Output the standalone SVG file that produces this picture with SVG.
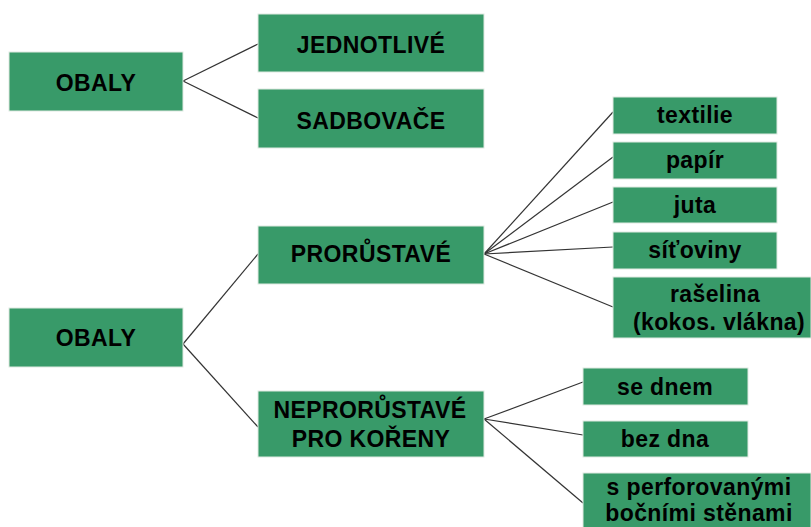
<svg xmlns="http://www.w3.org/2000/svg" width="811" height="527" viewBox="0 0 811 527">
<style>
.box{fill:#389a69;stroke:#dfeae2;stroke-width:1}
.t{font-family:"Liberation Sans",Arial,sans-serif;font-weight:bold;font-size:23px;letter-spacing:0.4px;fill:#000;text-anchor:middle}
.c line{stroke:#333;stroke-width:1.2}
</style>
<rect width="811" height="527" fill="#fff"/>
<g class="c" id="connectors">
<line x1="183" y1="81" x2="258" y2="44"/>
<line x1="183" y1="81" x2="258" y2="118"/>
<line x1="183" y1="344" x2="258" y2="254"/>
<line x1="183" y1="344" x2="258" y2="427"/>
<line x1="484" y1="254" x2="613" y2="112"/>
<line x1="484" y1="254" x2="613" y2="157"/>
<line x1="484" y1="254" x2="613" y2="202"/>
<line x1="484" y1="254" x2="613" y2="247"/>
<line x1="484" y1="254" x2="613" y2="307"/>
<line x1="484" y1="419" x2="583" y2="382"/>
<line x1="484" y1="419" x2="583" y2="435"/>
<line x1="484" y1="419" x2="583" y2="503"/>
</g>
<g id="obaly1"><rect class="box" x="9" y="52" width="174" height="59"/><text class="t" x="96" y="91">OBALY</text></g>
<g id="jednotlive"><rect class="box" x="258" y="14" width="226" height="58"/><text class="t" x="371" y="53">JEDNOTLIVÉ</text></g>
<g id="sadbovace"><rect class="box" x="258" y="89" width="226" height="59"/><text class="t" x="371" y="129">SADBOVAČE</text></g>
<g id="obaly2"><rect class="box" x="9" y="308" width="174" height="59"/><text class="t" x="96" y="346">OBALY</text></g>
<g id="prorustave"><rect class="box" x="258" y="226" width="226" height="58"/><text class="t" x="371" y="262">PRORŮSTAVÉ</text></g>
<g id="neprorustave"><rect class="box" x="258" y="391" width="226" height="66"/><text class="t" x="370" y="418">NEPRORŮSTAVÉ</text><text class="t" x="371" y="447">PRO KOŘENY</text></g>
<g id="textilie"><rect class="box" x="613" y="97" width="164" height="37"/><text class="t" x="695" y="123">textilie</text></g>
<g id="papir"><rect class="box" x="613" y="142" width="164" height="37"/><text class="t" x="695" y="168">papír</text></g>
<g id="juta"><rect class="box" x="613" y="187" width="164" height="36"/><text class="t" x="695" y="213">juta</text></g>
<g id="sitoviny"><rect class="box" x="613" y="232" width="164" height="37"/><text class="t" x="695" y="258">síťoviny</text></g>
<g id="raselina"><rect class="box" x="613" y="277" width="198" height="61"/><text class="t" x="715" y="302">rašelina</text><text class="t" x="719" y="330">(kokos. vlákna)</text></g>
<g id="sednem"><rect class="box" x="583" y="368" width="165" height="37"/><text class="t" x="665" y="395">se dnem</text></g>
<g id="bezdna"><rect class="box" x="583" y="421" width="165" height="36"/><text class="t" x="665" y="447">bez dna</text></g>
<g id="sperf"><rect class="box" x="583" y="473" width="228" height="60"/><text class="t" x="699" y="495">s perforovanými</text><text class="t" x="699" y="521">bočními stěnami</text></g>
</svg>
